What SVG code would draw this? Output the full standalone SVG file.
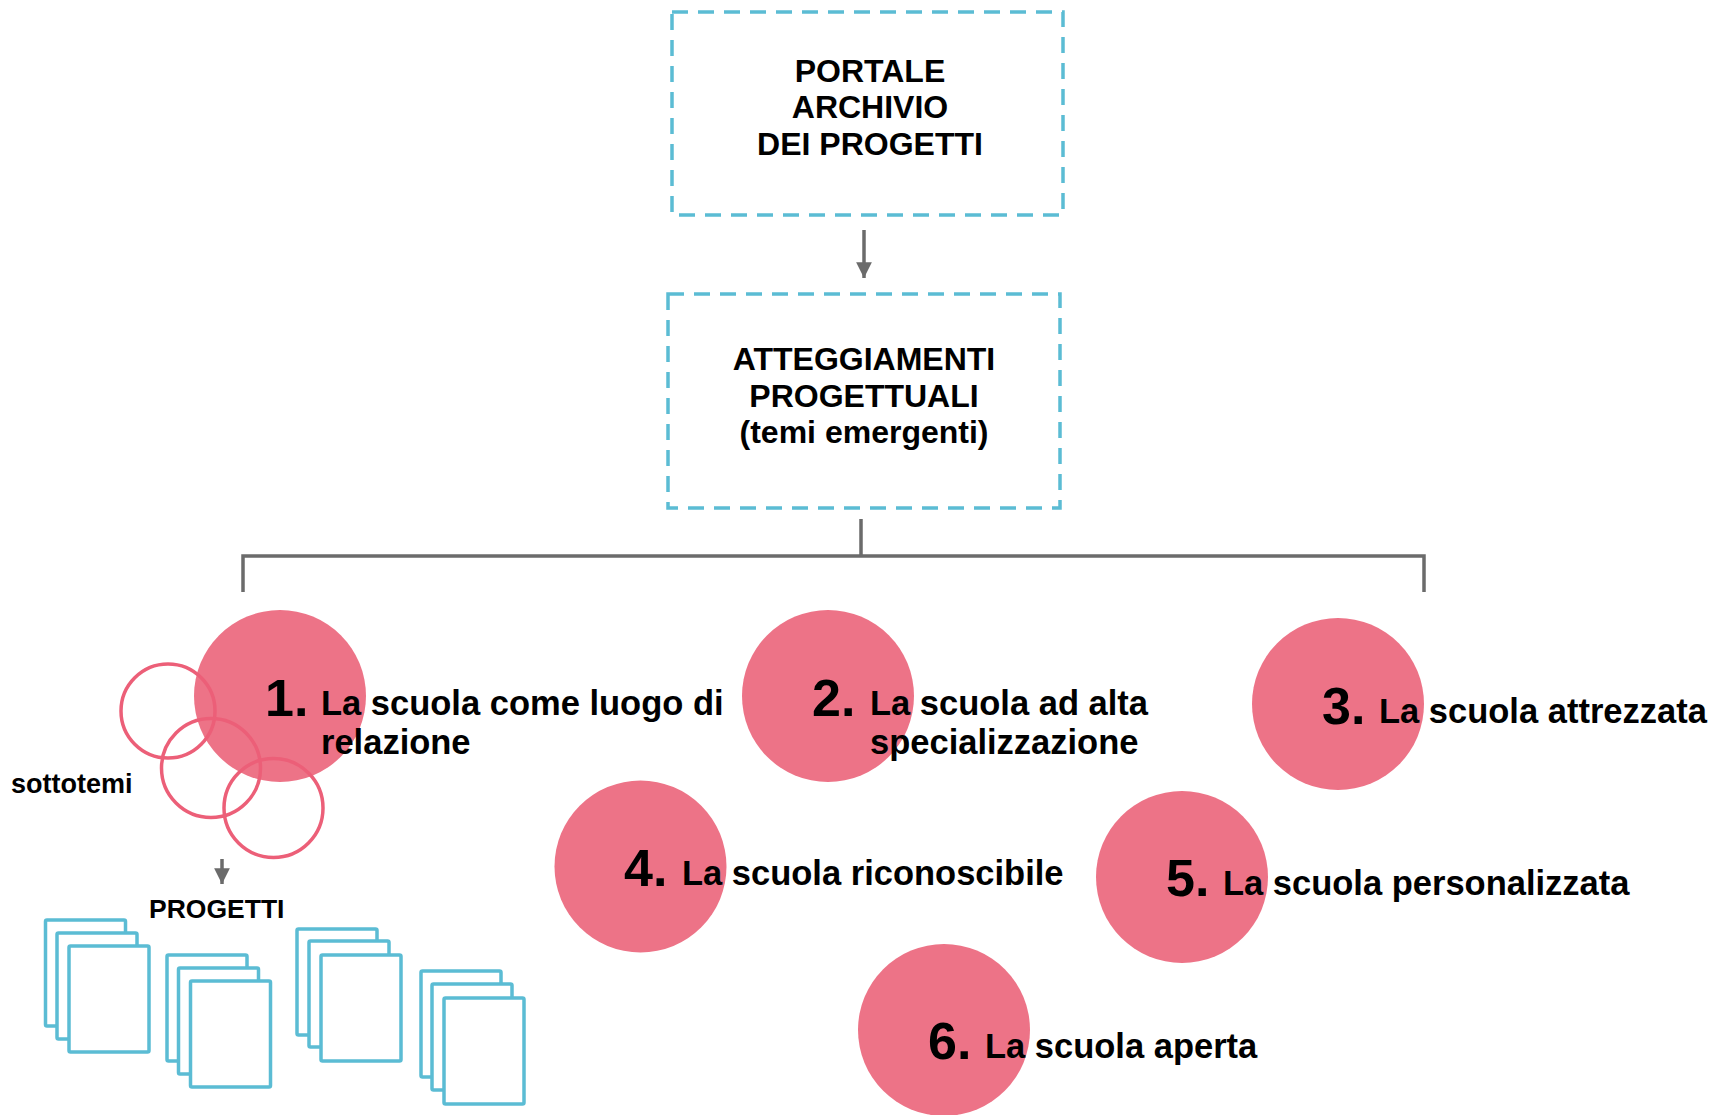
<svg xmlns="http://www.w3.org/2000/svg" width="1726" height="1115" viewBox="0 0 1726 1115">
<style>
.box{fill:#fff;stroke:#5bbcd4;stroke-width:3.5;stroke-dasharray:16 10}
.bt{font-family:"Liberation Sans",Arial,sans-serif;font-weight:bold;font-size:32px;fill:#000;text-anchor:middle}
.conn{stroke:#6b6b6b;stroke-width:3.5;fill:none}
.dot{fill:#ed7387}
.ring{fill:none;stroke:#ec5f78;stroke-width:3.5}
.num{font-family:"Liberation Sans",Arial,sans-serif;font-weight:bold;font-size:52px;fill:#000}
.lbl{font-family:"Liberation Sans",Arial,sans-serif;font-weight:bold;font-size:34.5px;fill:#000}
.sm{font-family:"Liberation Sans",Arial,sans-serif;font-weight:bold;font-size:26.5px;fill:#000}
.sheet{fill:#fff;stroke:#5bbcd4;stroke-width:3.5}
</style>
<defs>
<marker id="ah" viewBox="0 0 10 10" refX="10" refY="5" markerWidth="4.5" markerHeight="4.5" orient="auto" markerUnits="strokeWidth">
<path d="M0,0 L10,5 L0,10 z" fill="#6b6b6b"/>
</marker>
</defs>
<g id="portale">
<rect class="box" x="672" y="12" width="391" height="203"/>
<text class="bt" x="870" y="82">PORTALE</text>
<text class="bt" x="870" y="118">ARCHIVIO</text>
<text class="bt" x="870" y="155">DEI PROGETTI</text>
</g>
<g id="atteggiamenti">
<rect class="box" x="668" y="294" width="392" height="214"/>
<text class="bt" x="864" y="370">ATTEGGIAMENTI</text>
<text class="bt" x="864" y="407">PROGETTUALI</text>
<text class="bt" x="864" y="443">(temi emergenti)</text>
</g>
<g id="connectors">
<line class="conn" x1="864" y1="230" x2="864" y2="278" marker-end="url(#ah)"/>
<path class="conn" d="M861,519 V556 M243,592 V556 H1424 V592"/>
<line class="conn" x1="222" y1="859" x2="222" y2="884" marker-end="url(#ah)"/>
</g>
<g id="tema1">
<circle class="dot" cx="280" cy="696" r="86"/>
<text class="num" x="265" y="716">1.</text>
<text class="lbl" x="321" y="715">La scuola come luogo di</text>
<text class="lbl" x="321" y="754">relazione</text>
</g>
<g id="sottotemi">
<circle class="ring" cx="168" cy="711" r="47"/>
<circle class="ring" cx="211" cy="768" r="49.5"/>
<circle class="ring" cx="273.5" cy="808" r="49.5"/>
<text class="sm" x="11" y="793" style="font-size:27px">sottotemi</text>
</g>
<g id="tema2">
<circle class="dot" cx="828" cy="696" r="86"/>
<text class="num" x="812" y="716">2.</text>
<text class="lbl" x="870" y="715">La scuola ad alta</text>
<text class="lbl" x="870" y="754">specializzazione</text>
</g>
<g id="tema3">
<circle class="dot" cx="1338" cy="704" r="86"/>
<text class="num" x="1322" y="724">3.</text>
<text class="lbl" x="1379" y="723">La scuola attrezzata</text>
</g>
<g id="tema4">
<circle class="dot" cx="640.5" cy="866.5" r="86"/>
<text class="num" x="624" y="886">4.</text>
<text class="lbl" x="682" y="885">La scuola riconoscibile</text>
</g>
<g id="tema5">
<circle class="dot" cx="1182" cy="877" r="86"/>
<text class="num" x="1166" y="896">5.</text>
<text class="lbl" x="1223" y="895">La scuola personalizzata</text>
</g>
<g id="tema6">
<circle class="dot" cx="944" cy="1030" r="86"/>
<text class="num" x="928" y="1059">6.</text>
<text class="lbl" x="985" y="1058">La scuola aperta</text>
</g>
<g id="progetti">
<text class="sm" x="149" y="918">PROGETTI</text>
<rect class="sheet" x="45.5" y="920" width="80" height="106" rx="1.5"/>
<rect class="sheet" x="57" y="933" width="80" height="106" rx="1.5"/>
<rect class="sheet" x="69" y="946" width="80" height="106" rx="1.5"/>
<rect class="sheet" x="167" y="955" width="80" height="106" rx="1.5"/>
<rect class="sheet" x="178.5" y="968" width="80" height="106" rx="1.5"/>
<rect class="sheet" x="190.5" y="981" width="80" height="106" rx="1.5"/>
<rect class="sheet" x="297" y="929" width="80" height="106" rx="1.5"/>
<rect class="sheet" x="309" y="941" width="80" height="106" rx="1.5"/>
<rect class="sheet" x="321" y="955" width="80" height="106" rx="1.5"/>
<rect class="sheet" x="421" y="971" width="80" height="106" rx="1.5"/>
<rect class="sheet" x="432" y="984" width="80" height="106" rx="1.5"/>
<rect class="sheet" x="444" y="998" width="80" height="106" rx="1.5"/>
</g>
</svg>
